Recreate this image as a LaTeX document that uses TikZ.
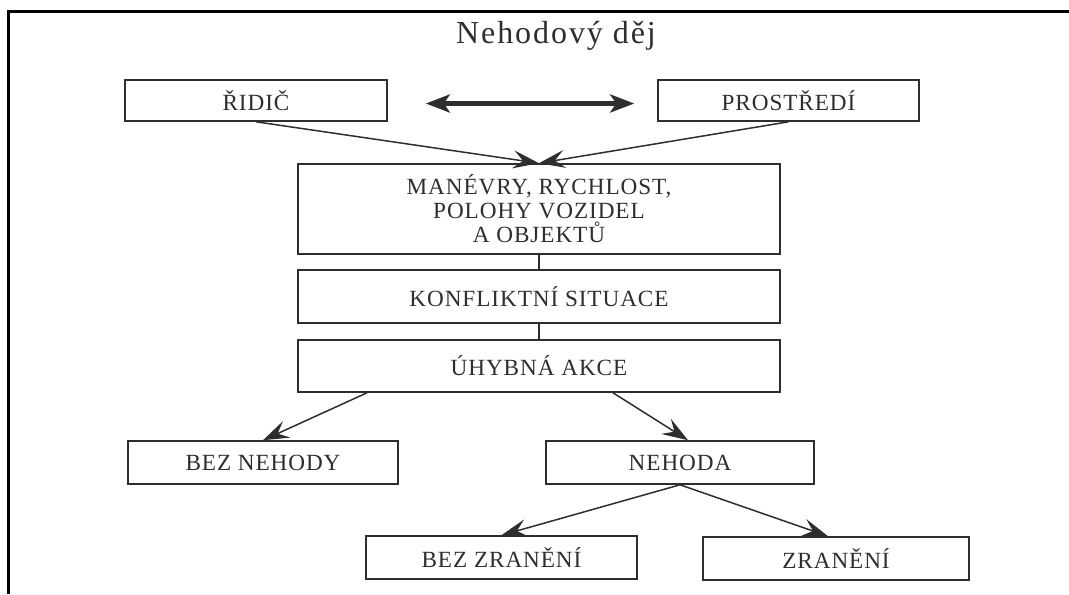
\documentclass[tikz,border=0pt]{standalone}
\usepackage{fontspec}
\setmainfont{Liberation Serif}
\newfontfamily\boxfont[LetterSpace=4]{Liberation Serif}
\newfontfamily\titlefont[LetterSpace=6]{Liberation Serif}
\usetikzlibrary{arrows.meta, calc}
\definecolor{ink}{HTML}{2E2E2E}
\tikzset{
    stage/.style={draw=ink, line width=0.8pt, rectangle, align=center,
        font=\boxfont\fontsize{11.6}{12}\selectfont, text=ink,
        inner sep=0pt},
    flow/.style={draw=ink, line width=0.75pt,
        -{Stealth[length=13pt, width=9pt, inset=5pt]}},
    link/.style={draw=ink, line width=0.7pt},
    both/.style={draw=ink, line width=2.4pt,
        {Stealth[length=12pt, width=9pt, inset=3pt]}-{Stealth[length=12pt, width=9pt, inset=3pt]}}
}

\begin{document}
\begin{tikzpicture}[x=0.5pt, y=-0.5pt]
\useasboundingbox (0, 0) rectangle (1069, 594);

% frame
\draw[line width=1.5pt] (8, 594) -- (8, 11) -- (1069, 11);

% title
\node[font=\titlefont\fontsize{16}{19}\selectfont, text=ink] (title) at (556, 36) {Nehodový děj};

% top row
\node[stage, minimum width=131pt, minimum height=20.5pt] (ridic) at (256, 100.5) {ŘIDIČ};
\node[stage, minimum width=130.5pt, minimum height=20.5pt] (prostredi) at (788.5, 100.5) {PROSTŘEDÍ};
\coordinate (pl) at ($(ridic.east) + (38, 3)$);
\coordinate (pr) at ($(prostredi.west) + (-23, 3)$);
\draw[both] (pl) -- (pr);

% middle column
\node[stage, minimum width=241pt, minimum height=45pt] (manevry) at (539, 209)
    {MANÉVRY, RYCHLOST,\\POLOHY VOZIDEL\\A OBJEKTŮ};
\node[stage, minimum width=241pt, minimum height=26.5pt] (konflikt) at (539, 296.5) {KONFLIKTNÍ SITUACE};
\node[stage, minimum width=241pt, minimum height=26pt] (uhybna) at (539, 366) {ÚHYBNÁ AKCE};

\draw[flow] (ridic.south) -- (manevry.north);
\draw[flow] (prostredi.south) -- (manevry.north);
\draw[link] (manevry) -- (konflikt);
\draw[link] (konflikt) -- (uhybna);

% outcomes
\node[stage, minimum width=135pt, minimum height=21.5pt] (beznehody) at (263, 462.5) {BEZ NEHODY};
\node[stage, minimum width=134pt, minimum height=21.5pt] (nehoda) at (680, 462.5) {NEHODA};
\node[stage, minimum width=135.5pt, minimum height=21.5pt] (bezzraneni) at (501.5, 557.5) {BEZ ZRANĚNÍ};
\node[stage, minimum width=133pt, minimum height=21.5pt] (zraneni) at (836, 558.5) {ZRANĚNÍ};

\draw[flow] ($(uhybna.south) + (-172, 0)$) -- (beznehody.north);
\draw[flow] ($(uhybna.south) + (74, 0)$) -- ($(nehoda.north) + (8, 0)$);
\draw[flow] (nehoda.south) -- (bezzraneni.north);
\draw[flow] (nehoda.south) -- ($(zraneni.north) + (-8, 0)$);
\end{tikzpicture}
\end{document}
